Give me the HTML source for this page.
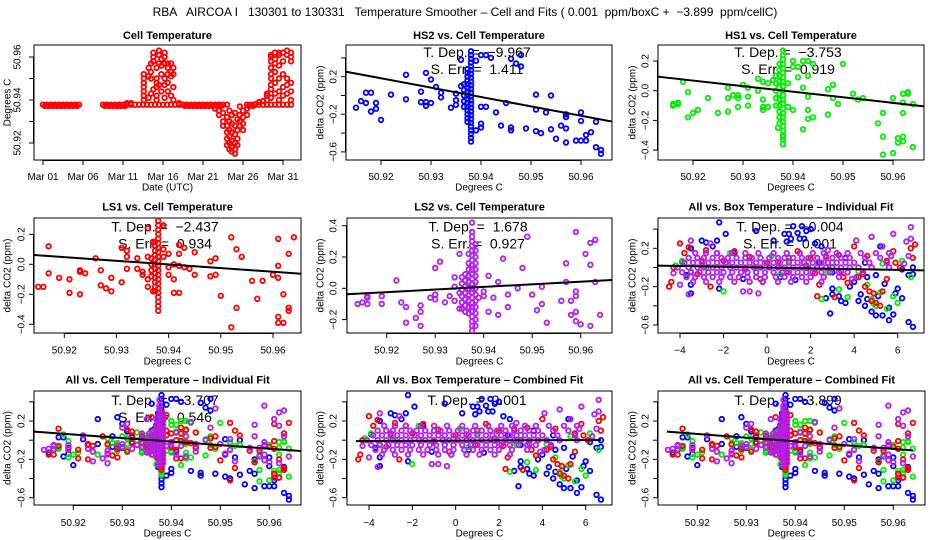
<!DOCTYPE html>
<html><head><meta charset="utf-8"><title>RBA AIRCOA Temperature Smoother</title>
<style>
html,body{margin:0;padding:0;background:#fff;}
svg{display:block;font-family:"Liberation Sans",Arial,sans-serif;}
svg text{white-space:pre;}
</style></head>
<body>
<svg id="chart" width="936" height="540" viewBox="0 0 936 540" xmlns="http://www.w3.org/2000/svg" xml:space="preserve">
<rect x="0" y="0" width="936" height="540" fill="#fff"/>
<text x="465" y="16" text-anchor="middle" font-size="12">RBA   AIRCOA I   130301 to 130331   Temperature Smoother – Cell and Fits ( 0.001  ppm/boxC +  −3.899  ppm/cellC)</text>
</svg>
<script>
// ---------------- DATA ----------------
const cellBaseDaysA = [0,0.5,1,1.5,2,2.5,3,3.5,4,4.5,7.5,8,8.5,9,9.5,10,10.5,11,11.5,12,12.5,13,13.5,14,14.5,15,15.5,16,16.5,17,17.5,18,18.5,19,19.5,20,20.5,21,21.5,22,22.5,23,25.5,26,26.5,27,27.5,28,28.5,29,29.5,30,30.5,31];
const cellBaseTempA = 50.9378;
const cellBaseDaysB = [0.25,0.75,1.25,1.75,2.25,2.75,3.25,3.75,4.25,7.75,8.25,8.75,9.25,9.75,10.25,17.75,18.25,18.75,19.25,19.75,20.25,20.75,21.25,21.75,22.25,25.75,26.25];
const cellBaseTempB = 50.9372;
const cellSpikes = [[10.5,50.9385],[11,50.9385],[12.6,50.940],[12.6,50.942],[12.6,50.944],[12.6,50.946],[12.6,50.948],[12.6,50.950],[12.6,50.952],
[13.2,50.941],[13.2,50.955],[13.2,50.951],[13.5,50.943],[13.5,50.950],[13.5,50.953],[13.5,50.957],[13.8,50.945],[13.8,50.960],[13.8,50.962],[13.8,50.958],
[14.2,50.940],[14.2,50.942],[14.2,50.946],[14.2,50.948],[14.2,50.955],[14.2,50.950],[14.5,50.961],[14.5,50.963],[14.5,50.957],[14.5,50.947],
[14.8,50.944],[14.8,50.952],[14.8,50.956],[14.8,50.959],[15.2,50.947],[15.2,50.950],[15.2,50.962],[15.2,50.960],[15.2,50.957],[15.2,50.941],
[15.6,50.948],[15.6,50.952],[15.6,50.957],[15.6,50.955],[15.6,50.944],[16.0,50.953],[16.0,50.957],[16.0,50.951],[16.0,50.942],[16.3,50.955],[16.3,50.952],[16.3,50.946],[16.3,50.940],[17,50.9385],
[21.5,50.936],[22,50.935],[22,50.933],[22.5,50.934],[22.5,50.930],[22.5,50.928],[23,50.932],[23,50.928],[23,50.925],[23,50.922],[23,50.919],
[23.3,50.935],[23.3,50.930],[23.3,50.926],[23.3,50.923],[23.3,50.920],[23.3,50.917],[23.6,50.933],[23.6,50.929],[23.6,50.925],[23.6,50.921],[23.6,50.918],[23.6,50.916],
[24,50.934],[24,50.928],[24,50.924],[24,50.920],[24,50.917],[24,50.915],[24.3,50.931],[24.3,50.926],[24.3,50.922],[24.3,50.919],[24.6,50.937],[24.6,50.933],[24.6,50.930],[24.6,50.928],
[25,50.935],[25,50.932],[25,50.929],[25,50.926],[25.5,50.936],[25.5,50.933],[26.5,50.938],[27,50.939],[27.5,50.9395],
[28,50.940],[28,50.942],[28,50.943],[28.5,50.941],[28.5,50.945],[28.5,50.950],[28.5,50.952],[28.5,50.955],[28.5,50.958],[28.5,50.960],[28.5,50.961],[28.5,50.947],
[29,50.943],[29,50.948],[29,50.953],[29,50.957],[29,50.962],[29,50.959],[29.5,50.940],[29.5,50.944],[29.5,50.950],[29.5,50.956],[29.5,50.961],[29.5,50.962],
[30,50.942],[30,50.946],[30,50.952],[30,50.958],[30,50.962],[30.5,50.943],[30.5,50.947],[30.5,50.950],[30.5,50.961],[30.5,50.963],[31,50.940],[31,50.944],[31,50.948],[31,50.958],[31,50.962],[31,50.960]];
const cellXTicks = [0,5,10,15,20,25,30];
const cellXLabels = ["Mar 01","Mar 06","Mar 11","Mar 16","Mar 21","Mar 26","Mar 31"];
const cellYTicks = [50.92,50.93,50.94,50.95,50.96];
const cellYLabels = ["50.92","","50.94","","50.96"];

const hs2Points = [[50.915,-0.13],[50.916,-0.06],[50.917,-0.08],[50.917,0.03],[50.918,0.03],[50.918,-0.17],[50.919,-0.08],[50.919,-0.14],[50.920,-0.26],[50.922,0.01],[50.925,0.22],[50.925,-0.04],[50.928,0.04],[50.928,-0.07],[50.929,-0.07],[50.929,-0.11],[50.929,0.24],[50.930,0.17],[50.930,-0.08],[50.931,0.09],[50.932,0.03],[50.932,-0.02],[50.934,-0.13],[50.935,-0.05],[50.935,-0.10],[50.935,0.02],[50.936,0.38],[50.936,0.10],[50.939,0.37],[50.939,-0.37],[50.940,0.43],[50.941,0.43],[50.940,-0.12],[50.941,-0.12],[50.940,-0.30],[50.940,-0.34],[50.942,0.40],[50.943,-0.18],[50.944,-0.32],[50.945,-0.08],[50.946,0.39],[50.946,-0.34],[50.946,-0.37],[50.947,0.34],[50.948,0.31],[50.948,0.43],[50.949,-0.35],[50.951,0.01],[50.951,-0.15],[50.951,-0.38],[50.952,-0.40],[50.953,-0.18],[50.954,0.0],[50.954,-0.36],[50.955,-0.46],[50.956,-0.32],[50.957,-0.20],[50.957,-0.23],[50.957,-0.35],[50.957,-0.50],[50.959,-0.48],[50.960,-0.48],[50.960,-0.18],[50.960,-0.27],[50.961,-0.42],[50.961,-0.48],[50.962,-0.39],[50.963,-0.55],[50.963,-0.28],[50.964,-0.58],[50.964,-0.62]];
const hs2StripX = [50.9366,50.9373,50.9380];
const hs2StripY0 = [-0.12,-0.06,0.0,0.06,0.12];
const hs2StripY1 = [-0.28,-0.24,-0.20,-0.16,-0.12,-0.08,-0.04,0.0,0.04,0.08,0.12,0.16,0.20,0.24,0.28];
const hs2StripY2 = [-0.49,-0.45,-0.41,-0.37,-0.33,-0.29,-0.25,-0.21,-0.17,-0.13,-0.09,-0.05,-0.01,0.03,0.07,0.11,0.15,0.19,0.23,0.27,0.31,0.35,0.39,0.43,0.47];

const hs1Points = [[50.916,-0.09],[50.916,-0.10],[50.917,-0.08],[50.917,-0.09],[50.918,0.06],[50.919,-0.18],[50.919,-0.01],[50.920,-0.15],[50.921,-0.13],[50.923,-0.05],[50.925,-0.15],[50.927,0.02],[50.927,-0.05],[50.927,-0.14],[50.928,-0.03],[50.929,-0.03],[50.929,-0.05],[50.929,-0.11],[50.930,0.04],[50.931,0.02],[50.931,-0.04],[50.931,-0.10],[50.933,0.08],[50.933,0.00],[50.934,0.06],[50.934,-0.06],[50.934,-0.11],[50.934,-0.13],[50.935,0.05],[50.935,-0.11],[50.936,0.07],[50.937,-0.25],[50.938,-0.31],[50.938,-0.36],[50.939,-0.11],[50.939,0.05],[50.940,0.20],[50.940,0.16],[50.941,0.09],[50.941,0.16],[50.940,-0.13],[50.942,0.20],[50.942,0.02],[50.942,-0.26],[50.943,0.20],[50.943,0.10],[50.943,-0.04],[50.943,-0.13],[50.943,-0.19],[50.944,0.18],[50.944,-0.18],[50.947,-0.16],[50.947,0.01],[50.948,0.04],[50.948,-0.05],[50.949,-0.09],[50.950,0.18],[50.952,-0.02],[50.953,-0.06],[50.954,-0.05],[50.957,-0.22],[50.958,-0.15],[50.958,-0.31],[50.958,-0.43],[50.960,-0.05],[50.960,-0.42],[50.961,-0.32],[50.961,-0.35],[50.962,-0.02],[50.962,-0.08],[50.962,-0.15],[50.962,-0.31],[50.962,-0.34],[50.963,-0.01],[50.963,-0.02],[50.964,-0.09],[50.964,-0.38]];
const hs1StripX = [50.9366,50.9373,50.9380];
const hs1StripY0 = [-0.10,-0.05,0.0,0.05,0.10];
const hs1StripY1 = [-0.22,-0.18,-0.14,-0.10,-0.06,-0.02,0.02,0.06,0.10,0.14,0.18];
const hs1StripY2 = [-0.36,-0.33,-0.30,-0.27,-0.24,-0.21,-0.18,-0.15,-0.12,-0.09,-0.06,-0.03,0.0,0.03,0.06,0.09,0.12,0.15,0.18,0.21,0.24,0.27];

const ls1Points = [[50.915,-0.15],[50.916,-0.15],[50.917,0.12],[50.917,-0.06],[50.919,-0.09],[50.921,-0.10],[50.921,-0.19],[50.923,-0.04],[50.923,-0.05],[50.923,-0.20],[50.924,-0.06],[50.926,0.04],[50.927,-0.04],[50.927,-0.14],[50.928,-0.16],[50.929,-0.09],[50.929,-0.18],[50.931,-0.12],[50.931,0.11],[50.932,0.09],[50.932,0.05],[50.932,-0.03],[50.934,0.04],[50.934,-0.03],[50.935,-0.05],[50.935,-0.07],[50.936,0.05],[50.936,-0.10],[50.936,-0.15],[50.936,0.24],[50.937,0.15],[50.937,-0.18],[50.939,0.26],[50.939,0.10],[50.939,0.05],[50.940,0.07],[50.940,-0.02],[50.940,-0.07],[50.941,0.00],[50.941,-0.10],[50.941,-0.19],[50.942,-0.19],[50.942,0.13],[50.942,0.07],[50.942,-0.01],[50.943,0.11],[50.943,-0.02],[50.944,-0.03],[50.945,0.08],[50.945,-0.07],[50.948,0.02],[50.948,-0.08],[50.949,0.04],[50.949,-0.07],[50.950,-0.21],[50.952,0.18],[50.952,-0.42],[50.953,0.10],[50.953,-0.29],[50.954,0.05],[50.956,-0.11],[50.957,-0.23],[50.958,-0.11],[50.960,-0.07],[50.961,0.17],[50.961,-0.01],[50.961,-0.09],[50.961,-0.35],[50.961,-0.39],[50.962,-0.20],[50.962,-0.39],[50.963,0.07],[50.963,-0.29],[50.963,-0.31],[50.964,0.18]];
const ls1StripX = [50.9367,50.9374,50.9380];
const ls1StripY0 = [-0.08,-0.04,0.0,0.04];
const ls1StripY1 = [-0.18,-0.15,-0.12,-0.09,-0.06,-0.03,0.0,0.03,0.06,0.09,0.12,0.15];
const ls1StripY2 = [-0.31,-0.28,-0.25,-0.22,-0.19,-0.16,-0.13,-0.10,-0.07,-0.04,-0.01,0.02,0.05,0.08,0.11,0.14,0.17,0.20,0.23,0.26,0.29];

const ls2Points = [[50.914,-0.10],[50.915,-0.09],[50.916,-0.05],[50.916,-0.06],[50.916,-0.10],[50.919,-0.05],[50.919,-0.10],[50.922,0.05],[50.923,-0.09],[50.924,-0.12],[50.924,-0.22],[50.926,-0.19],[50.927,-0.11],[50.927,-0.15],[50.927,-0.24],[50.929,-0.06],[50.930,-0.04],[50.930,-0.07],[50.930,0.13],[50.931,0.17],[50.932,-0.09],[50.933,-0.05],[50.934,0.07],[50.934,0.01],[50.934,-0.08],[50.935,0.22],[50.935,-0.13],[50.935,-0.03],[50.939,-0.06],[50.940,-0.05],[50.940,-0.02],[50.941,0.08],[50.941,-0.15],[50.942,-0.06],[50.943,0.04],[50.943,-0.17],[50.944,0.19],[50.945,-0.04],[50.945,-0.12],[50.947,0.00],[50.948,0.13],[50.949,0.33],[50.950,-0.04],[50.951,-0.14],[50.952,-0.10],[50.952,0.01],[50.953,-0.22],[50.956,-0.08],[50.957,0.16],[50.957,0.04],[50.958,-0.08],[50.958,-0.17],[50.959,0.36],[50.959,-0.02],[50.959,-0.05],[50.959,-0.15],[50.959,-0.21],[50.960,-0.23],[50.961,0.22],[50.962,0.29],[50.962,0.15],[50.962,-0.24],[50.963,0.31],[50.963,0.04],[50.964,-0.17]];
const ls2StripX = [50.9355,50.9362,50.9369,50.9376,50.9383];
const ls2StripY0 = [-0.13,-0.09,-0.05,-0.01,0.03,0.07];
const ls2StripY1 = [-0.15,-0.11,-0.07,-0.03,0.01,0.05,0.09];
const ls2StripY2 = [-0.16,-0.12,-0.08,-0.04,0.0,0.04,0.08,0.12,0.16,0.22];
const ls2StripY3 = [-0.27,-0.24,-0.21,-0.18,-0.15,-0.12,-0.09,-0.06,-0.03,0.0,0.03,0.06,0.09,0.12,0.15,0.18,0.21,0.24,0.27,0.30,0.33,0.36,0.42];
const ls2StripY4 = [-0.24,-0.20,-0.16,-0.12,-0.08,-0.04,0.0,0.04,0.08,0.12,0.16,0.20,0.24,0.28];

const boxBlue = [[-2.2,0.47],[-1.9,0.35],[-3.0,0.28],[-2.8,0.26],[-2.5,0.22],[-2.3,0.28],[-3.5,0.2],[-3.9,0.06],[-3.7,-0.08],[-3.5,-0.18],[-3.5,-0.27],[-2.2,-0.22],[-1.5,0.15],[-0.5,0.38],[0.8,0.35],[1.0,0.35],[1.2,0.43],[1.4,0.36],[1.6,0.43],[1.8,0.38],[2.0,0.4],[1.7,0.3],[0.9,0.27],[1.1,0.3],[1.5,0.3],[0.3,0.28],[2.2,0.25],[2.5,0.22],[2.7,-0.32],[3.0,-0.22],[3.0,-0.28],[3.3,-0.3],[2.9,-0.48],[3.4,-0.35],[3.6,-0.37],[3.8,-0.2],[4.0,-0.15],[4.2,-0.35],[4.3,-0.28],[4.5,-0.4],[4.6,-0.33],[4.8,-0.46],[5.0,-0.5],[5.1,-0.3],[5.3,-0.5],[5.4,-0.17],[5.6,-0.42],[5.6,-0.55],[5.8,-0.49],[5.9,-0.27],[6.0,-0.22],[6.2,-0.32],[6.5,-0.57],[6.7,-0.62],[6.7,-0.07],[6.7,0.0],[6.5,-0.08],[6.2,-0.02],[5.0,-0.08],[4.6,-0.1],[3.6,0.1],[3.0,-0.05],[2.4,0.05],[-0.2,-0.15],[-1.1,-0.12],[0.6,-0.1],[1.3,-0.13],[5.2,0.22],[4.5,0.05]];
const boxRed = [[-4.5,-0.2],[-4.4,-0.15],[-4.3,0.0],[-4.0,0.25],[-3.8,0.15],[-3.6,0.21],[-3.2,-0.07],[-3.0,0.07],[-2.8,0.18],[-2.6,-0.2],[-2.3,0.15],[-1.9,0.05],[-1.5,0.17],[-1.0,-0.02],[-0.8,0.11],[-0.3,-0.12],[0.0,0.05],[0.5,0.06],[0.9,-0.05],[1.4,0.17],[1.8,0.02],[2.2,-0.06],[2.3,-0.3],[2.4,-0.18],[2.7,0.12],[3.0,0.0],[3.1,-0.31],[3.5,-0.1],[3.7,-0.16],[4.0,0.22],[4.2,-0.1],[4.4,-0.07],[4.5,-0.2],[4.7,-0.25],[4.8,-0.35],[4.9,-0.27],[5.0,-0.37],[5.2,-0.4],[5.3,-0.25],[5.5,-0.12],[5.5,0.07],[5.8,0.17],[5.9,0.05],[6.1,0.0],[6.6,0.2],[6.8,0.24],[6.7,0.1],[-2.0,0.07],[1.0,0.1],[2.0,0.09],[3.3,0.13],[4.6,0.12]];
const boxGreen = [[-4.2,0.02],[-3.9,0.07],[-3.5,-0.04],[-2.0,-0.25],[-1.7,0.15],[-1.0,0.1],[0.2,0.12],[0.6,-0.07],[1.0,0.07],[1.5,0.15],[2.0,0.1],[2.5,-0.33],[2.8,-0.05],[3.3,-0.23],[3.7,-0.31],[4.2,-0.04],[4.8,-0.33],[4.9,-0.38],[5.0,-0.4],[5.2,-0.26],[5.5,-0.43],[5.8,-0.3],[6.0,-0.37],[6.2,0.07],[6.6,-0.1],[5.3,0.04],[4.6,-0.18],[-2.8,0.0],[-0.5,-0.05],[3.0,0.05]];
const boxPurple = [[-3.5,0.28],[-2.6,0.25],[-3.6,-0.28],[-0.4,-0.27],[-1.1,-0.25],[-0.8,-0.25],[2.8,0.18],[4.1,0.28],[4.8,0.32],[5.3,0.22],[5.8,0.35],[6.4,0.27],[6.6,0.42],[6.6,0.3],[5.6,0.15],[6.5,0.12],[3.7,0.15],[-4.3,-0.06],[-4.0,-0.18],[3.9,-0.12],[3.4,-0.04],[5.7,0.12],[6.3,0.04]];
const boxBlobRowY = [0.15,0.10,0.05,0.00,-0.05,-0.10,-0.15];
const boxBlobRowX = [
 [-3.3,-2.8,-2.3,-1.6,-1.0,-0.4,0.3,0.9,1.5,2.1,2.6,3.2,4.3,5.0],
 [-3.6,-3.2,-2.9,-2.5,-2.1,-1.8,-1.4,-1.0,-0.7,-0.3,0.1,0.5,0.8,1.2,1.6,1.9,2.3,2.7,3.0,3.4,3.8,4.5,5.2],
 [-3.8,-3.4,-3.0,-2.7,-2.3,-1.9,-1.6,-1.2,-0.8,-0.5,-0.1,0.3,0.6,1.0,1.4,1.7,2.1,2.5,2.8,3.2,3.6,4.0,4.7,5.5],
 [-4.1,-3.6,-3.2,-2.9,-2.5,-2.1,-1.7,-1.4,-1.0,-0.6,-0.3,0.1,0.5,0.8,1.2,1.6,1.9,2.3,2.7,3.0,3.4,3.8,4.2,4.8,5.6],
 [-3.9,-3.5,-3.1,-2.7,-2.3,-2.0,-1.6,-1.2,-0.9,-0.5,-0.1,0.3,0.7,1.0,1.4,1.8,2.1,2.5,2.9,3.3,3.7,4.4],
 [-3.7,-3.3,-2.9,-2.5,-2.1,-1.7,-1.3,-0.9,-0.5,-0.1,0.4,0.8,1.2,1.6,2.0,2.6,3.3,4.1],
 [-3.4,-2.8,-2.2,-1.5,-0.8,-0.2,0.5,1.1,1.8,2.5]];

const fitHS2 = [-9.967, -0.016];
const fitHS1 = [-3.753, -0.007];
const fitLS1 = [-2.437, -0.001];
const fitLS2 = [1.678, 0.009];
const fitBoxInd = [-0.004, -0.001];
const fitCellInd = [-3.707, -0.015];
const fitBoxComb = [0.001, -0.005];
const fitCellComb = [-3.899, -0.013];
const statHS2 = ["−9.967","1.411"];
const statHS1 = ["−3.753","0.919"];
const statLS1 = ["−2.437","0.934"];
const statLS2 = ["1.678","0.927"];
const statBoxInd = ["−0.004","0.001"];
const statCellInd = ["−3.707","0.546"];
const statBoxComb = ["0.001"];
const statCellComb = ["−3.899"];

const tempXTicks = [50.92,50.93,50.94,50.95,50.96];
const tempXLabels = ["50.92","50.93","50.94","50.95","50.96"];
const boxXTicks = [-4,-2,0,2,4,6];
const boxXLabels = ["−4","−2","0","2","4","6"];
const yTicksWide = [-0.6,-0.4,-0.2,0,0.2,0.4];
const yLabelsWide = ["−0.6","","−0.2","","0.2",""];
const yTicksHS1 = [-0.4,-0.2,0,0.2];
const yLabelsHS1 = ["−0.4","−0.2","0.0","0.2"];
const yTicksLS2 = [-0.2,0,0.2,0.4];
const yLabelsLS2 = ["−0.2","0.0","0.2","0.4"];

// ---------------- DRAWING ----------------
const NS = "http://www.w3.org/2000/svg";
const svg = document.getElementById("chart");
const BLUE="#0000ff", GREEN="#00ee00", RED="#ff0000", PURPLE="#b41ef0";

function el(tag, attrs, parent){
  const e = document.createElementNS(NS, tag);
  for (const k in attrs) e.setAttribute(k, attrs[k]);
  (parent || svg).appendChild(e);
  return e;
}
function linScale(v1, p1, v2, p2){ return v => p1 + (v - v1) * (p2 - p1) / (v2 - v1); }

function makePanel(cfg){
  const g = el("g", {});
  
  
  const sx = linScale(cfg.xa[0], cfg.xa[1], cfg.xa[2], cfg.xa[3]);
  const sy = linScale(cfg.ya[0], cfg.ya[1], cfg.ya[2], cfg.ya[3]);
  const [x0, y0, x1, y1] = cfg.box;
  const cx = (x0 + x1) / 2;
  const t = el("text", {x: cx, y: cfg.titleY, "text-anchor": "middle", "font-size": "11", "font-weight": "bold"}, g);
  t.textContent = cfg.title;
  
  
  const box = el("rect", {x: x0, y: y0, width: x1 - x0, height: y1 - y0, fill: "none", stroke: "#000", "stroke-width": "1"}, g);
  
  
  const xg = el("g", {}, g);
  
  
  const xpMin = sx(cfg.xticks[0]), xpMax = sx(cfg.xticks[cfg.xticks.length - 1]);
  el("line", {x1: xpMin, y1: y1 + 0.5, x2: xpMax, y2: y1 + 0.5, stroke: "#000"}, xg);
  cfg.xticks.forEach((v, i) => {
    const px = sx(v);
    const tk = el("line", {x1: px, y1: y1, x2: px, y2: y1 + 5, stroke: "#000"}, xg);
    
    
    const lb = el("text", {x: px, y: cfg.xlabY, "text-anchor": "middle", "font-size": "10"}, xg);
    lb.textContent = cfg.xlabels[i];
    
    
  });
  const xt = el("text", {x: cx, y: cfg.xtitleY, "text-anchor": "middle", "font-size": "10"}, g);
  xt.textContent = cfg.xtitle;
  
  
  const yg = el("g", {}, g);
  
  
  const ypMin = sy(cfg.yticks[0]), ypMax = sy(cfg.yticks[cfg.yticks.length - 1]);
  el("line", {x1: x0 - 0.5, y1: ypMin, x2: x0 - 0.5, y2: ypMax, stroke: "#000"}, yg);
  cfg.yticks.forEach((v, i) => {
    const py = sy(v);
    const tk = el("line", {x1: x0 - 5, y1: py, x2: x0, y2: py, stroke: "#000"}, yg);
    
    
    if (cfg.ylabels[i]) {
      const lb = el("text", {x: cfg.ylabX, y: py, "text-anchor": "middle", "font-size": "10", transform: `rotate(-90 ${cfg.ylabX} ${py})`, dy: "3.5"}, yg);
      lb.textContent = cfg.ylabels[i];
      
      
    }
  });
  const ym = (y0 + y1) / 2;
  const yt = el("text", {x: cfg.ytitleX, y: ym, "text-anchor": "middle", "font-size": "10", transform: `rotate(-90 ${cfg.ytitleX} ${ym})`, dy: "3.5"}, g);
  yt.textContent = cfg.ytitle;
  
  
  if (cfg.stats) {
    const s1 = el("text", {x: cfg.statX, y: cfg.statY, "text-anchor": "middle", "font-size": "14"}, g);
    s1.textContent = "T. Dep. =  " + cfg.stats[0];
    
    
    if (cfg.stats.length > 1) {
      const s2 = el("text", {x: cfg.statX, y: cfg.statY + 17, "text-anchor": "middle", "font-size": "14"}, g);
      s2.textContent = "S. Err. =  " + cfg.stats[1];
      
      
    }
  }
  return {g, sx, sy, cfg};
}

function dots(P, pts, color, name){
  const g = el("g", {fill: "none", stroke: color, "stroke-width": "1.8"}, P.g);
  
  
  pts.forEach(p => {
    const c = el("circle", {cx: P.sx(p[0]).toFixed(1), cy: P.sy(p[1]).toFixed(1), r: "2.3"}, g);
    
    
  });
}
function stripPts(xs, ysList){
  const out = [];
  ysList.forEach((ys, i) => ys.forEach(y => out.push([xs[i], y])));
  return out;
}
function blobPts(rowY, rowX){
  const out = [];
  rowY.forEach((y, i) => rowX[i].forEach(x => out.push([x, y])));
  return out;
}
function fitLine(P, fit, xref, xa, xb){
  const [x0, , x1] = P.cfg.box;
  const va = xa === null ? P.sx.inv(x0) : xa;
  const vb = xb === null ? P.sx.inv(x1) : xb;
  const f = v => fit[1] + fit[0] * (v - xref);
  const ln = el("line", {x1: P.sx(va), y1: P.sy(f(va)), x2: P.sx(vb), y2: P.sy(f(vb)), stroke: "#000", "stroke-width": "2"}, P.g);
  
  
}
function withInv(P){
  const a = P.cfg.xa;
  P.sx.inv = px => a[0] + (px - a[1]) * (a[2] - a[0]) / (a[3] - a[1]);
  return P;
}

const hs2All = hs2Points.concat(stripPts(hs2StripX, [hs2StripY0, hs2StripY1, hs2StripY2]));
const hs1All = hs1Points.concat(stripPts(hs1StripX, [hs1StripY0, hs1StripY1, hs1StripY2]));
const ls1All = ls1Points.concat(stripPts(ls1StripX, [ls1StripY0, ls1StripY1, ls1StripY2]));
const ls2All = ls2Points.concat(stripPts(ls2StripX, [ls2StripY0, ls2StripY1, ls2StripY2, ls2StripY3, ls2StripY4]));
const boxPurpleAll = boxPurple.concat(blobPts(boxBlobRowY, boxBlobRowX));

const P1 = makePanel({name: "cell-temperature-panel", title: "Cell Temperature", box: [34,45,301,160], titleY: 39,
  xa: [0,43,30,283], ya: [50.94,100,50.96,57], xticks: cellXTicks, xlabels: cellXLabels, yticks: cellYTicks, ylabels: cellYLabels,
  xlabY: 180, xtitleY: 190.5, xtitle: "Date (UTC)", ylabX: 17, ytitleX: 7, ytitle: "Degrees C"});
const cellPts = cellBaseDaysA.map(d => [d, cellBaseTempA]).concat(cellBaseDaysB.map(d => [d, cellBaseTempB])).concat(cellSpikes);
dots(P1, cellPts, RED, "cell-temperature-series");

const row1 = {titleY: 39, xlabY: 180, xtitleY: 190.5, xtitle: "Degrees C", ytitle: "delta CO2 (ppm)", statY: 57};
const P2 = withInv(makePanel(Object.assign({}, row1, {name: "hs2-panel", title: "HS2 vs. Cell Temperature", box: [346,45,612,160],
  xa: [50.92,381,50.96,581], ya: [0.2,76.7,-0.2,114.3], xticks: tempXTicks, xlabels: tempXLabels, yticks: yTicksWide, ylabels: yLabelsWide,
  ylabX: 333, ytitleX: 320, stats: statHS2, statX: 477})));
dots(P2, hs2All, BLUE, "hs2-series");
fitLine(P2, fitHS2, 50.94, null, null);

const P3 = withInv(makePanel(Object.assign({}, row1, {name: "hs1-panel", title: "HS1 vs. Cell Temperature", box: [658,45,924,160],
  xa: [50.92,693,50.96,893], ya: [0,90.7,0.2,61], xticks: tempXTicks, xlabels: tempXLabels, yticks: yTicksHS1, ylabels: yLabelsHS1,
  ylabX: 645, ytitleX: 632, stats: statHS1, statX: 788})));
dots(P3, hs1All, GREEN, "hs1-series");
fitLine(P3, fitHS1, 50.94, null, null);

const row2 = {titleY: 210.5, xlabY: 353.5, xtitleY: 364.5, xtitle: "Degrees C", ytitle: "delta CO2 (ppm)", statY: 231.5};
const P4 = withInv(makePanel(Object.assign({}, row2, {name: "ls1-panel", title: "LS1 vs. Cell Temperature", box: [34,218,301,333],
  xa: [50.92,64.3,50.96,273], ya: [0,264.3,0.2,234.3], xticks: tempXTicks, xlabels: tempXLabels, yticks: yTicksHS1, ylabels: yLabelsHS1,
  ylabX: 21, ytitleX: 7, stats: statLS1, statX: 165})));
dots(P4, ls1All, RED, "ls1-series");
fitLine(P4, fitLS1, 50.94, null, null);

const P5 = withInv(makePanel(Object.assign({}, row2, {name: "ls2-panel", title: "LS2 vs. Cell Temperature", box: [347,218,612,333],
  xa: [50.92,386.7,50.96,580.7], ya: [0,288.3,0.4,225.7], xticks: tempXTicks, xlabels: tempXLabels, yticks: yTicksLS2, ylabels: yLabelsLS2,
  ylabX: 333, ytitleX: 320, stats: statLS2, statX: 478})));
dots(P5, ls2All, PURPLE, "ls2-series");
fitLine(P5, fitLS2, 50.94, null, null);

const P6 = withInv(makePanel(Object.assign({}, row2, {name: "all-vs-box-individual-panel", title: "All vs. Box Temperature – Individual Fit", box: [658,218,924,333],
  xa: [-4,680,6,897.7], ya: [0.2,248.3,-0.6,325], xticks: boxXTicks, xlabels: boxXLabels, yticks: yTicksWide, ylabels: yLabelsWide,
  ylabX: 645, ytitleX: 632, stats: statBoxInd, statX: 790})));
dots(P6, boxBlue, BLUE, "hs2-series");
dots(P6, boxGreen, GREEN, "hs1-series");
dots(P6, boxRed, RED, "ls1-series");
dots(P6, boxPurpleAll, PURPLE, "ls2-series");
fitLine(P6, fitBoxInd, 0, null, null);

const row3 = {titleY: 383.5, xlabY: 526, xtitleY: 536.5, xtitle: "Degrees C", ytitle: "delta CO2 (ppm)", statY: 405};
const P7 = withInv(makePanel(Object.assign({}, row3, {name: "all-vs-cell-individual-panel", title: "All vs. Cell Temperature – Individual Fit", box: [34,391,301,505],
  xa: [50.92,73.3,50.96,269.3], ya: [0.2,421,-0.6,497.7], xticks: tempXTicks, xlabels: tempXLabels, yticks: yTicksWide, ylabels: yLabelsWide,
  ylabX: 21, ytitleX: 7, stats: statCellInd, statX: 165})));
dots(P7, hs2All, BLUE, "hs2-series");
dots(P7, hs1All, GREEN, "hs1-series");
dots(P7, ls1All, RED, "ls1-series");
dots(P7, ls2All, PURPLE, "ls2-series");
fitLine(P7, fitCellInd, 50.94, null, null);

const P8 = withInv(makePanel(Object.assign({}, row3, {name: "all-vs-box-combined-panel", title: "All vs. Box Temperature – Combined Fit", box: [347,391,612,505],
  xa: [-4,369,6,585.7], ya: [0.2,421,-0.6,497.7], xticks: boxXTicks, xlabels: boxXLabels, yticks: yTicksWide, ylabels: yLabelsWide,
  ylabX: 333, ytitleX: 320, stats: statBoxComb, statX: 477})));
dots(P8, boxBlue, BLUE, "hs2-series");
dots(P8, boxGreen, GREEN, "hs1-series");
dots(P8, boxRed, RED, "ls1-series");
dots(P8, boxPurpleAll, PURPLE, "ls2-series");
fitLine(P8, fitBoxComb, 0, -4.6, 6.7);

const P9 = withInv(makePanel(Object.assign({}, row3, {name: "all-vs-cell-combined-panel", title: "All vs. Cell Temperature – Combined Fit", box: [658,391,925,505],
  xa: [50.92,697.3,50.96,893.3], ya: [0.2,421,-0.6,497.7], xticks: tempXTicks, xlabels: tempXLabels, yticks: yTicksWide, ylabels: yLabelsWide,
  ylabX: 645, ytitleX: 632, stats: statCellComb, statX: 788})));
dots(P9, hs2All, BLUE, "hs2-series");
dots(P9, hs1All, GREEN, "hs1-series");
dots(P9, ls1All, RED, "ls1-series");
dots(P9, ls2All, PURPLE, "ls2-series");
fitLine(P9, fitCellComb, 50.94, 50.9138, 50.964);
</script>
</body></html>
